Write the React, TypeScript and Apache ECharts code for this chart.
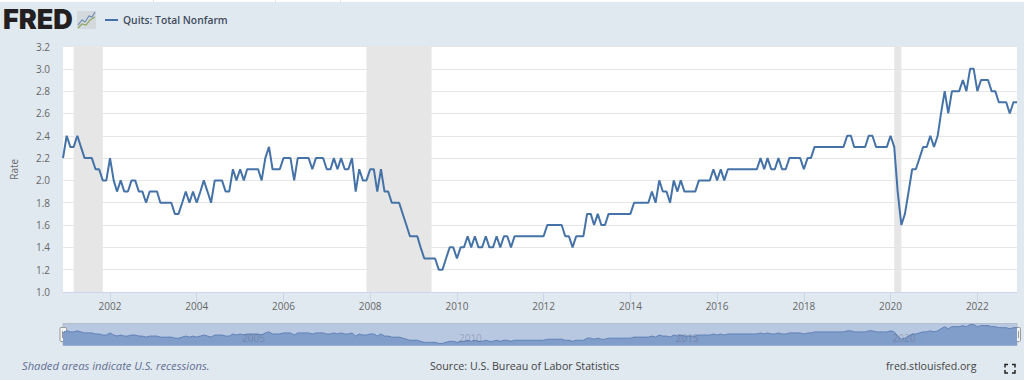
import React, { useEffect, useRef } from "react";
import * as echarts from "echarts";

const startYear = 2000;
const startMonth = 11; // December 2000, zero-based month of the first value
const quitsRate = [
  2.2,
  2.4, 2.3, 2.3, 2.4, 2.3, 2.2, 2.2, 2.2, 2.1, 2.1, 2.0, 2.0,
  2.2, 2.0, 1.9, 2.0, 1.9, 1.9, 2.0, 2.0, 1.9, 1.9, 1.8, 1.9,
  1.9, 1.9, 1.8, 1.8, 1.8, 1.8, 1.7, 1.7, 1.8, 1.9, 1.8, 1.9,
  1.8, 1.9, 2.0, 1.9, 1.8, 2.0, 2.0, 2.0, 1.9, 1.9, 2.1, 2.0,
  2.1, 2.0, 2.1, 2.1, 2.1, 2.1, 2.0, 2.2, 2.3, 2.1, 2.1, 2.1,
  2.2, 2.2, 2.2, 2.0, 2.2, 2.2, 2.2, 2.2, 2.1, 2.2, 2.2, 2.2,
  2.1, 2.1, 2.2, 2.1, 2.2, 2.1, 2.1, 2.2, 1.9, 2.1, 2.0, 2.0,
  2.1, 2.1, 1.9, 2.1, 1.9, 1.9, 1.8, 1.8, 1.8, 1.7, 1.6, 1.5,
  1.5, 1.5, 1.4, 1.3, 1.3, 1.3, 1.3, 1.2, 1.2, 1.3, 1.4, 1.4,
  1.3, 1.4, 1.4, 1.5, 1.4, 1.5, 1.4, 1.4, 1.5, 1.4, 1.4, 1.5,
  1.4, 1.5, 1.5, 1.4, 1.5, 1.5, 1.5, 1.5, 1.5, 1.5, 1.5, 1.5,
  1.5, 1.6, 1.6, 1.6, 1.6, 1.6, 1.5, 1.5, 1.4, 1.5, 1.5, 1.5,
  1.7, 1.7, 1.6, 1.7, 1.6, 1.6, 1.7, 1.7, 1.7, 1.7, 1.7, 1.7,
  1.7, 1.8, 1.8, 1.8, 1.8, 1.8, 1.9, 1.8, 2.0, 1.9, 1.9, 1.8,
  2.0, 1.9, 2.0, 1.9, 1.9, 1.9, 1.9, 2.0, 2.0, 2.0, 2.0, 2.1,
  2.0, 2.1, 2.0, 2.1, 2.1, 2.1, 2.1, 2.1, 2.1, 2.1, 2.1, 2.1,
  2.2, 2.1, 2.2, 2.1, 2.1, 2.2, 2.1, 2.1, 2.2, 2.2, 2.2, 2.2,
  2.1, 2.2, 2.2, 2.3, 2.3, 2.3, 2.3, 2.3, 2.3, 2.3, 2.3, 2.3,
  2.4, 2.4, 2.3, 2.3, 2.3, 2.3, 2.4, 2.4, 2.3, 2.3, 2.3, 2.3,
  2.4, 2.3, 1.9, 1.6, 1.7, 1.9, 2.1, 2.1, 2.2, 2.3, 2.3, 2.4,
  2.3, 2.4, 2.6, 2.8, 2.6, 2.8, 2.8, 2.8, 2.9, 2.8, 3.0, 3.0,
  2.8, 2.9, 2.9, 2.9, 2.8, 2.8, 2.7, 2.7, 2.7, 2.6, 2.7, 2.7,
];
const xTickYears = [2002, 2004, 2006, 2008, 2010, 2012, 2014, 2016, 2018, 2020, 2022];
const navTickYears = [2005, 2010, 2015, 2020];
const recessions = [
  ["2001-03-01", "2001-11-01"],
  ["2007-12-01", "2009-06-01"],
  ["2020-02-01", "2020-04-01"],
];
const seriesName = "Quits: Total Nonfarm";
const yAxisName = "Rate";
const recessionNote = "Shaded areas indicate U.S. recessions.";
const sourceNote = "Source: U.S. Bureau of Labor Statistics";
const siteNote = "fred.stlouisfed.org";

const FONT = "'Open Sans', sans-serif";
const dates = quitsRate.map((_, i) => Date.UTC(startYear, startMonth + i, 1));
const seriesData = quitsRate.map((v, i) => [dates[i], v]);
const jan = (y: number) => Date.UTC(y, 0, 1);
const xMin = dates[0];
const xMax = dates[dates.length - 1];
const yearLabel = (v: number) => String(new Date(v).getUTCFullYear());

export default function App() {
  const ref = useRef<HTMLDivElement>(null);
  useEffect(() => {
    document.body.style.margin = "0";
    const chart = echarts.init(ref.current!, null, { renderer: "svg" });
    const corner = (x: number, y: number, dx: number, dy: number) => ({
      type: "polyline",
      shape: { points: [[x, y + dy], [x, y], [x + dx, y]] },
      style: { stroke: "#222", lineWidth: 1.5, fill: "none" },
    });
    const handle = (x: number) => ({
      type: "group",
      children: [
        { type: "rect", shape: { x, y: 327.5, width: 6.5, height: 14, r: 1 }, style: { fill: "#f2f2f2", stroke: "#999", lineWidth: 1 } },
        { type: "line", shape: { x1: x + 2.5, y1: 331, x2: x + 2.5, y2: 338 }, style: { stroke: "#999", lineWidth: 1 } },
        { type: "line", shape: { x1: x + 4.5, y1: 331, x2: x + 4.5, y2: 338 }, style: { stroke: "#999", lineWidth: 1 } },
      ],
    });
    const divider = (x: number) => ({
      type: "rect",
      shape: { x, y: 0, width: 1, height: 2 },
      style: { fill: "#dfe3e8" },
    });
    chart.setOption({
      animation: false,
      backgroundColor: "#e1e9f0",
      textStyle: { fontFamily: FONT },
      legend: {
        data: [seriesName],
        left: 100,
        top: 10,
        icon: "rect",
        itemWidth: 13,
        itemHeight: 2,
        itemGap: 4,
        textStyle: { color: "#3f4b5c", fontSize: 10.3, fontFamily: FONT, fontWeight: 600 },
      },
      grid: [
        { left: 63, right: 7, top: 46.5, height: 245.5, show: true, backgroundColor: "#fff", borderWidth: 0 },
        { left: 63, right: 7, top: 323.5, height: 22, show: true, backgroundColor: "#b9c8e1", borderWidth: 1, borderColor: "#b3bdcc" },
      ],
      xAxis: [
        {
          type: "value",
          gridIndex: 0,
          min: xMin,
          max: xMax,
          axisLine: { show: true, onZero: false, lineStyle: { color: "#ccd6eb", width: 1 } },
          axisTick: { show: true, length: 10, lineStyle: { color: "#ccd6eb" }, customValues: xTickYears.map(jan) },
          axisLabel: {
            show: true,
            margin: 9,
            color: "#666",
            fontSize: 10,
            fontFamily: FONT,
            customValues: xTickYears.map(jan),
            formatter: yearLabel,
          },
          splitLine: { show: false },
        },
        {
          type: "value",
          gridIndex: 1,
          min: xMin,
          max: xMax,
          z: 10,
          axisLine: { show: false, onZero: false },
          axisTick: { show: false },
          axisLabel: {
            show: true,
            inside: true,
            margin: 3,
            color: "rgba(90,100,120,0.4)",
            fontSize: 10,
            fontFamily: FONT,
            align: "left",
            padding: [0, 0, 0, 2],
            customValues: navTickYears.map(jan),
            formatter: yearLabel,
          },
          splitLine: { show: false },
        },
      ],
      yAxis: [
        {
          type: "value",
          gridIndex: 0,
          min: 1.0,
          max: 3.2,
          interval: 0.2,
          name: yAxisName,
          nameLocation: "middle",
          nameGap: 44,
          nameTextStyle: { color: "#666", fontSize: 10, fontFamily: FONT },
          axisLine: { show: false },
          axisTick: { show: false },
          axisLabel: {
            color: "#666",
            fontSize: 10,
            fontFamily: FONT,
            margin: 13,
            formatter: (v: number) => v.toFixed(1),
          },
          splitLine: { show: true, lineStyle: { color: "#e6e6e6", width: 1 } },
        },
        {
          type: "value",
          gridIndex: 1,
          min: 1.0,
          max: 3.1,
          show: false,
          splitLine: { show: false },
        },
      ],
      series: [
        {
          name: seriesName,
          type: "line",
          xAxisIndex: 0,
          yAxisIndex: 0,
          data: seriesData,
          showSymbol: false,
          clip: true,
          lineStyle: { color: "#4572a7", width: 2 },
          itemStyle: { color: "#4572a7" },
          markArea: {
            silent: true,
            itemStyle: { color: "#e6e6e6" },
            data: recessions.map(([a, b]) => [{ xAxis: Date.parse(a) }, { xAxis: Date.parse(b) }]),
          },
          z: 3,
        },
        {
          name: "navigator",
          type: "line",
          xAxisIndex: 1,
          yAxisIndex: 1,
          data: seriesData,
          showSymbol: false,
          lineStyle: { color: "#5f82b8", width: 1 },
          areaStyle: { color: "#819dc9", opacity: 1 },
          z: 1,
        },
      ],
      graphic: [
        { type: "rect", shape: { x: 0, y: 0, width: 1024, height: 2 }, style: { fill: "#ffffff" } },
        divider(153),
        divider(275),
        divider(340),
        {
          type: "text",
          x: 3,
          y: 6,
          style: { text: "FRED", fontFamily: "Inter, 'Liberation Sans', sans-serif", fontWeight: 900, fontSize: 27, fill: "#231f20" },
        },
        {
          type: "group",
          children: [
            { type: "rect", shape: { x: 77, y: 11, width: 19, height: 18, r: 1 }, style: { fill: "#d3d9dc" } },
            { type: "polyline", shape: { points: [[78, 25], [82, 20], [85, 22], [89, 16], [92, 17], [95, 12]] }, style: { stroke: "#6d8db5", lineWidth: 1.2, fill: "none" } },
            { type: "polyline", shape: { points: [[78, 28], [82, 24], [86, 25], [90, 20], [95, 17]] }, style: { stroke: "#8fa65f", lineWidth: 1.2, fill: "none" } },
          ],
        },
        handle(60),
        handle(1014),
        { type: "text", x: 22, y: 360, style: { text: recessionNote, fontFamily: FONT, fontStyle: "italic", fontSize: 11.2, fill: "#5f6f94" } },
        { type: "text", x: 430, y: 360, style: { text: sourceNote, fontFamily: FONT, fontSize: 10.7, fill: "#444" } },
        { type: "text", x: 886, y: 360, style: { text: siteNote, fontFamily: FONT, fontSize: 10.6, fill: "#444" } },
        corner(1005, 364.5, 3, 3),
        corner(1015, 364.5, -3, 3),
        corner(1005, 373, 3, -3),
        corner(1015, 373, -3, -3),
      ],
    });
    return () => chart.dispose();
  }, []);
  return <div ref={ref} style={{ width: 1024, height: 380 }} />;
}
